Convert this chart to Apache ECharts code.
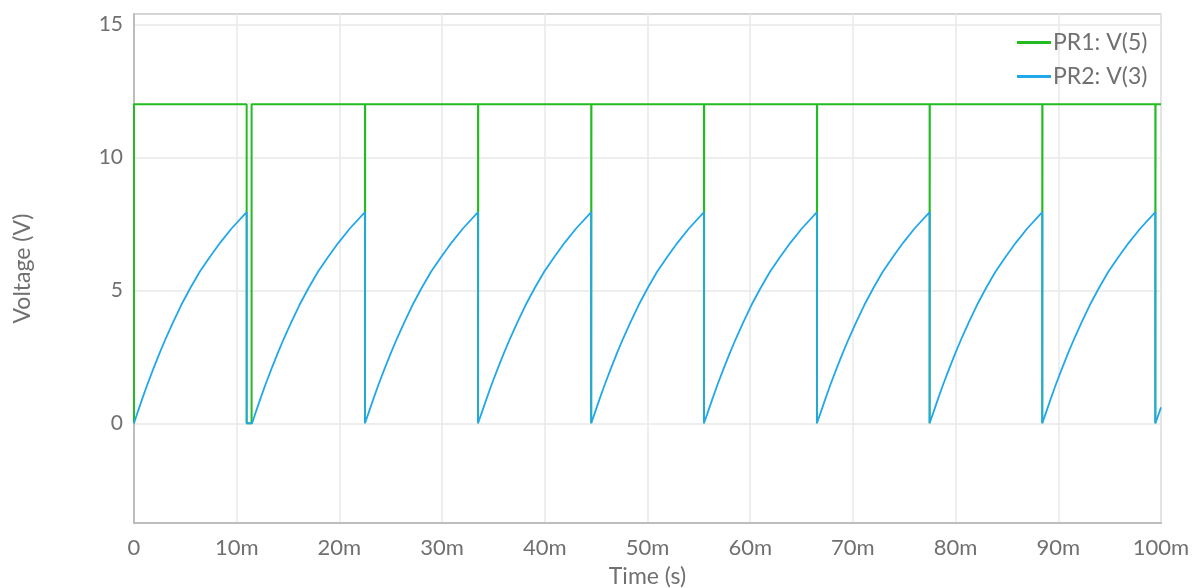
<!DOCTYPE html>
<html>
<head>
<meta charset="utf-8">
<script src="https://cdn.jsdelivr.net/npm/echarts@6/dist/echarts.min.js"></script>
<style>html,body{margin:0;padding:0;background:#fff}#c{width:1192px;height:588px}</style>
</head>
<body>
<div id="c"></div>
<script>
// time values in milliseconds
const xTicks = [0, 10, 20, 30, 40, 50, 60, 70, 80, 90, 100];
const yTicks = [0, 5, 10, 15];
const seriesNames = ['PR1: V(5)', 'PR2: V(3)'];
// PR1 square wave: high level, times it falls to 0 and times it returns high
const highLevel = 12;
const fallTimes = [10.97, 22.49, 33.5, 44.52, 55.5, 66.5, 77.47, 88.44, 99.45];
const riseTimes = [11.45, 22.51, 33.52, 44.54, 55.52, 66.52, 77.49, 88.46, 99.47];
// PR2 charging ramp: start of each ramp, and shape read from one cycle (offset ms, volts)
const rampStarts = [0, 11.5, 22.51, 33.52, 44.54, 55.52, 66.52, 77.49, 88.46, 99.47];
const rampOffsets = [0, 0.4, 0.8, 1.3, 1.9, 2.5, 3.1, 3.8, 4.6, 5.5, 6.4, 7.4, 8.4, 9.5, 10.97];
const rampValues  = [0, 0.47, 0.92, 1.46, 2.07, 2.65, 3.2, 3.8, 4.45, 5.1, 5.7, 6.27, 6.8, 7.33, 7.95];
const lastRampEnd = [100, 0.6];

// build PR1
const pr1 = [[0, 0], [0, highLevel]];
for (let i = 0; i < fallTimes.length; i++) {
  pr1.push([fallTimes[i], highLevel], [fallTimes[i], 0], [riseTimes[i], 0], [riseTimes[i], highLevel]);
}
pr1.push([100, highLevel]);

// build PR2
const pr2 = [];
for (let i = 0; i < rampStarts.length; i++) {
  const s = rampStarts[i];
  if (i < fallTimes.length) {
    const k = (fallTimes[i] - s) / rampOffsets[rampOffsets.length - 1];
    for (let j = 0; j < rampOffsets.length; j++) pr2.push([s + rampOffsets[j] * k, rampValues[j]]);
    pr2.push([fallTimes[i], 0]);
  } else {
    pr2.push([s, 0]);
    pr2.push(lastRampEnd);
  }
}

const txt = '#707070';
const chart = echarts.init(document.getElementById('c'));
chart.setOption({
  animation: false,
  textStyle: { fontFamily: 'Lato' },
  grid: { left: 134, right: 31, top: 14, bottom: 65, show: true, borderColor: '#c8c8c8', borderWidth: 1.5, containLabel: false, outerBoundsMode: 'none' },
  legend: {
    orient: 'vertical', left: 1012, top: 26, itemWidth: 34, itemHeight: 3, icon: 'rect', itemGap: 11,
    textStyle: { color: txt, fontSize: 23, fontFamily: 'Lato', padding: [0, 0, 0, -3] },
    data: seriesNames
  },
  xAxis: {
    type: 'value', min: 0, max: 100, interval: 10,
    name: 'Time (s)', nameLocation: 'middle', nameGap: 42,
    nameTextStyle: { color: txt, fontSize: 23, fontFamily: 'Lato' },
    axisLine: { show: true, onZero: false, lineStyle: { color: '#bdbdbd', width: 2 } },
    axisTick: { show: false },
    axisLabel: { color: txt, fontSize: 22, margin: 14, formatter: v => (v === 0 ? '0' : v + 'm') },
    splitLine: { show: true, lineStyle: { color: '#e8e8e8', width: 1.5 } }
  },
  yAxis: {
    type: 'value', min: -3.75, max: 15.4,
    name: 'Voltage (V)', nameLocation: 'middle', nameGap: 100,
    nameTextStyle: { color: txt, fontSize: 23, fontFamily: 'Lato' },
    axisLine: { show: true, onZero: false, lineStyle: { color: '#bdbdbd', width: 2 } },
    axisTick: { show: false, customValues: yTicks },
    axisLabel: { color: txt, fontSize: 21, margin: 11, customValues: yTicks },
    splitLine: { show: true, lineStyle: { color: '#e8e8e8', width: 1.5 } }
  },
  series: [
    { name: seriesNames[0], type: 'line', data: pr1, symbol: 'none', color: '#22bb22', lineStyle: { width: 2, color: '#22bb22' } },
    { name: seriesNames[1], type: 'line', data: pr2, symbol: 'none', color: '#22a8e8', lineStyle: { width: 1.8, color: '#22a8e8' } }
  ]
});
</script>
</body>
</html>
